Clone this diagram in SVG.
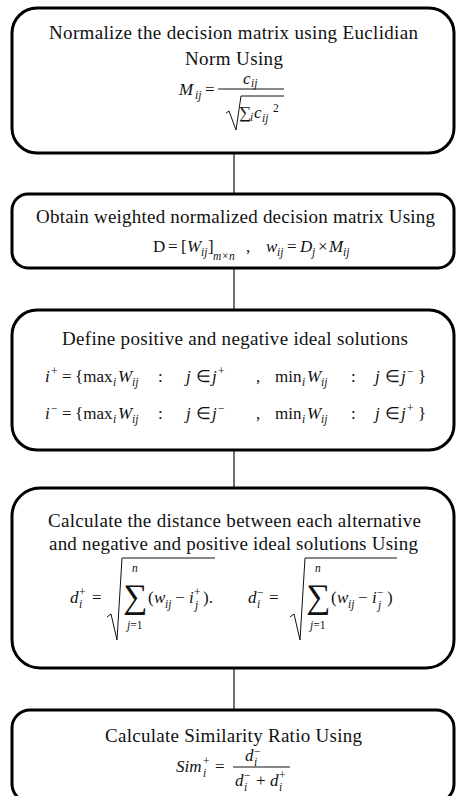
<svg xmlns="http://www.w3.org/2000/svg" width="456" height="796" viewBox="0 0 456 796">
<style>
.box{fill:#fff;stroke:#000;stroke-width:3}
.t{font-family:"Liberation Serif","Times New Roman",serif;font-size:19px;fill:#111;text-anchor:middle}
.m{font-family:"Liberation Serif","Times New Roman",serif;font-size:17px;fill:#111}
.i{font-style:italic}
.s{font-family:"Liberation Serif","Times New Roman",serif;font-size:11.5px;fill:#111}
.big{font-family:"Liberation Serif","Times New Roman",serif;font-size:34px;fill:#111}
.ln{stroke:#111;stroke-width:1;fill:none}
.con{stroke:#222;stroke-width:1.3}
</style>
<rect width="456" height="796" fill="#fff"/>
<g id="connectors">
<line class="con" x1="234" y1="153" x2="234" y2="194"/>
<line class="con" x1="234" y1="268" x2="234" y2="310"/>
<line class="con" x1="234" y1="450" x2="234" y2="488"/>
<line class="con" x1="234" y1="668" x2="234" y2="710"/>
</g>
<g id="node1">
<rect class="box" x="12" y="8" width="442" height="145" rx="25"/>
<text class="t" x="233.5" y="39" textLength="369" lengthAdjust="spacing">Normalize the decision matrix using Euclidian</text>
<text class="t" x="234" y="65" textLength="98" lengthAdjust="spacing">Norm Using</text>
<text class="m i" x="179" y="95" font-size="18">M</text>
<text class="s i" x="195" y="99">ij</text>
<text class="m" x="205" y="95">=</text>
<line class="ln" x1="218" y1="89" x2="284" y2="89"/>
<text class="m i" x="243" y="84">c</text>
<text class="s i" x="251" y="87">ij</text>
<path class="ln" d="M226,113 L229,111 L236,130 L241,96 L284,96"/>
<text class="m" x="239" y="118">∑</text>
<text class="s i" x="250" y="121">i</text>
<text class="m i" x="254" y="118">c</text>
<text class="s i" x="262" y="122">ij</text>
<text class="s" x="273" y="112">2</text>
</g>
<g id="node2">
<rect class="box" x="12" y="194" width="442" height="74" rx="16"/>
<text class="t" x="235.5" y="223" textLength="399" lengthAdjust="spacing">Obtain weighted normalized decision matrix Using</text>
<text class="m" x="153" y="252">D</text>
<text class="m" x="168" y="252">=</text>
<text class="m" x="181" y="252">[</text>
<text class="m i" x="187" y="252">W</text>
<text class="s i" x="201" y="256">ij</text>
<text class="m" x="208" y="252">]</text>
<text class="s i" x="213" y="260">m×n</text>
<text class="m" x="246" y="252">,</text>
<text class="m i" x="266" y="252">w</text>
<text class="s i" x="277" y="256">ij</text>
<text class="m" x="287" y="252">=</text>
<text class="m i" x="300" y="252">D</text>
<text class="s i" x="312" y="256">j</text>
<text class="m" x="318" y="252">×</text>
<text class="m i" x="329" y="252">M</text>
<text class="s i" x="343" y="256">ij</text>
</g>
<g id="node3">
<rect class="box" x="12" y="310" width="442" height="140" rx="25"/>
<text class="t" x="235" y="345" textLength="346" lengthAdjust="spacing">Define positive and negative ideal solutions</text>
<g id="iplus">
<text class="m i" x="45" y="382">i</text>
<text class="s" x="51" y="375">+</text>
<text class="m" x="62" y="382">=</text>
<text class="m" x="75" y="382">{max</text>
<text class="s i" x="113" y="386">i</text>
<text class="m i" x="118" y="382">W</text>
<text class="s i" x="132" y="386">ij</text>
<text class="m" x="158" y="382">:</text>
<text class="m i" x="186" y="382">j</text>
<text class="m" x="196" y="382">∈</text>
<text class="m i" x="212" y="382">j</text>
<text class="s" x="218" y="375">+</text>
<text class="m" x="256" y="382">,</text>
<text class="m" x="275" y="382">min</text>
<text class="s i" x="302" y="386">i</text>
<text class="m i" x="307" y="382">W</text>
<text class="s i" x="321" y="386">ij</text>
<text class="m" x="351" y="382">:</text>
<text class="m i" x="375" y="382">j</text>
<text class="m" x="385" y="382">∈</text>
<text class="m i" x="401" y="382">j</text>
<text class="s" x="407" y="375">−</text>
<text class="m" x="418" y="382">}</text>
</g>
<g id="iminus">
<text class="m i" x="45" y="419">i</text>
<text class="s" x="51" y="412">−</text>
<text class="m" x="62" y="419">=</text>
<text class="m" x="75" y="419">{max</text>
<text class="s i" x="113" y="423">i</text>
<text class="m i" x="118" y="419">W</text>
<text class="s i" x="132" y="423">ij</text>
<text class="m" x="158" y="419">:</text>
<text class="m i" x="186" y="419">j</text>
<text class="m" x="196" y="419">∈</text>
<text class="m i" x="212" y="419">j</text>
<text class="s" x="218" y="412">−</text>
<text class="m" x="256" y="419">,</text>
<text class="m" x="275" y="419">min</text>
<text class="s i" x="302" y="423">i</text>
<text class="m i" x="307" y="419">W</text>
<text class="s i" x="321" y="423">ij</text>
<text class="m" x="351" y="419">:</text>
<text class="m i" x="375" y="419">j</text>
<text class="m" x="385" y="419">∈</text>
<text class="m i" x="401" y="419">j</text>
<text class="s" x="407" y="412">+</text>
<text class="m" x="418" y="419">}</text>
</g>
</g>
<g id="node4">
<rect class="box" x="12" y="488" width="442" height="180" rx="28"/>
<text class="t" x="234.5" y="527" textLength="373" lengthAdjust="spacing">Calculate the distance between each alternative</text>
<text class="t" x="233.5" y="550" textLength="369" lengthAdjust="spacing">and negative and positive ideal solutions Using</text>
<text class="m i" x="70" y="603">d</text>
<text class="s i" x="79" y="608">i</text>
<text class="s" x="79" y="596">+</text>
<text class="m" x="92" y="603">=</text>
<path class="ln" d="M107,617 L111,614 L117,640 L122,558 L215,558"/>
<text class="s i" x="132" y="572">n</text>
<text class="big" x="123" y="608">∑</text>
<text class="s" x="127" y="629"><tspan class="i">j</tspan>=1</text>
<text class="m" x="148" y="603">(</text>
<text class="m i" x="154" y="603">w</text>
<text class="s i" x="165" y="608">ij</text>
<text class="m" x="175" y="603">−</text>
<text class="m i" x="189" y="603">i</text>
<text class="s" x="194" y="596">+</text>
<text class="s i" x="195" y="609">j</text>
<text class="m" x="203" y="603">).</text>
<text class="m i" x="248" y="603">d</text>
<text class="s i" x="257" y="608">i</text>
<text class="s" x="257" y="596">−</text>
<text class="m" x="269" y="603">=</text>
<path class="ln" d="M290,617 L294,614 L300,640 L305,558 L397,558"/>
<text class="s i" x="315" y="572">n</text>
<text class="big" x="306" y="608">∑</text>
<text class="s" x="310" y="629"><tspan class="i">j</tspan>=1</text>
<text class="m" x="331" y="603">(</text>
<text class="m i" x="337" y="603">w</text>
<text class="s i" x="348" y="608">ij</text>
<text class="m" x="358" y="603">−</text>
<text class="m i" x="372" y="603">i</text>
<text class="s" x="377" y="596">−</text>
<text class="s i" x="378" y="609">j</text>
<text class="m" x="387" y="603">)</text>
</g>
<g id="node5">
<rect class="box" x="12" y="710" width="442" height="92" rx="18"/>
<text class="t" x="233.5" y="742" textLength="257" lengthAdjust="spacing">Calculate Similarity Ratio Using</text>
<text class="m i" x="176" y="772">Sim</text>
<text class="s i" x="203" y="777">i</text>
<text class="s" x="203" y="765">+</text>
<text class="m" x="215" y="772">=</text>
<line class="ln" x1="233" y1="767" x2="290" y2="767"/>
<text class="m i" x="245" y="761">d</text>
<text class="s i" x="254" y="766">i</text>
<text class="s" x="254" y="755">−</text>
<text class="m i" x="235" y="786">d</text>
<text class="s i" x="244" y="791">i</text>
<text class="s" x="244" y="779">−</text>
<text class="m" x="256" y="786">+</text>
<text class="m i" x="270" y="786">d</text>
<text class="s i" x="279" y="791">i</text>
<text class="s" x="279" y="779">+</text>
</g>
</svg>
